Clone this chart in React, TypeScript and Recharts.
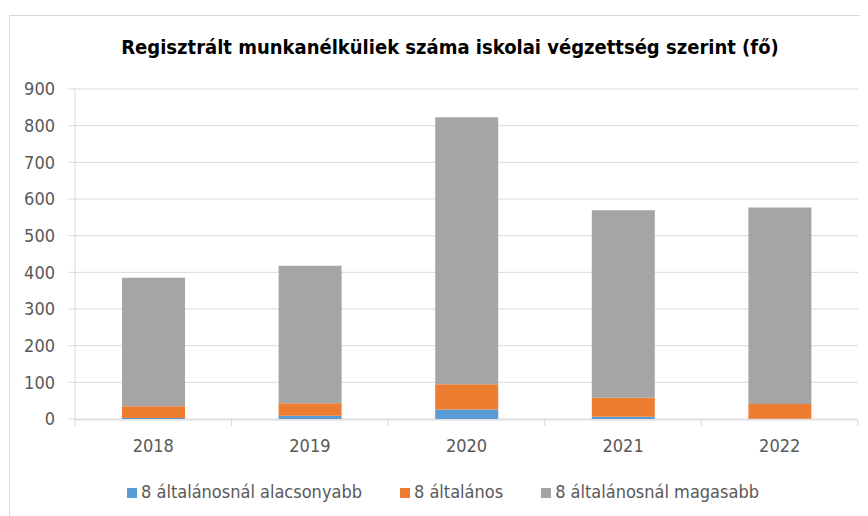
import { Bar, BarChart, CartesianGrid, Legend, XAxis, YAxis } from 'recharts'

const years = ['2018', '2019', '2020', '2021', '2022']
const belowEight = [3, 9, 26, 6, 1]
const eightGrade = [32, 34, 69, 52, 40]
const aboveEight = [350, 375, 728, 511, 536]
const yTicks = [0, 100, 200, 300, 400, 500, 600, 700, 800, 900]

const data = years.map((year, i) => ({
  year,
  idx: i,
  s1: belowEight[i],
  s2: eightGrade[i],
  s3: aboveEight[i],
}))

const font = '"DejaVu Sans Condensed", "Liberation Sans Narrow", "Open Sans", sans-serif'
const tickStyle = { fill: '#595959', fontSize: 18, fontFamily: font }

export default function App() {
  return (
    <div
      style={{
        position: 'relative',
        marginTop: 7,
        marginLeft: 1,
        width: 880,
        height: 520,
        border: '1px solid #d9d9d9',
        fontFamily: font,
      }}
    >
      <div
        style={{
          position: 'absolute',
          top: 19,
          left: 0,
          width: '100%',
          textAlign: 'center',
          fontSize: 20,
          fontWeight: 'bold',
          color: '#000',
        }}
      >
        Regisztrált munkanélküliek száma iskolai végzettség szerint (fő)
      </div>
      <BarChart
        width={860}
        height={517}
        data={data}
        margin={{ top: 73, right: 12, bottom: 0, left: 0 }}
      >
        <CartesianGrid vertical={false} stroke="#d9d9d9" />
        <XAxis
          dataKey="year"
          axisLine={false}
          tickLine={false}
          tick={tickStyle}
          tickMargin={14}
          height={1}
        />
        <XAxis
          xAxisId="edges"
          type="number"
          dataKey="idx"
          domain={[0, 5]}
          ticks={[0, 1, 2, 3, 4, 5]}
          tickFormatter={() => ''}
          stroke="#d9d9d9"
          tickSize={6}
          height={40}
        />
        <YAxis
          width={65}
          domain={[0, 900]}
          ticks={yTicks}
          stroke="#d9d9d9"
          tickSize={7}
          tickMargin={13}
          tick={tickStyle}
        />
        <Legend
          verticalAlign="bottom"
          height={52}
          iconType="square"
          iconSize={10}
          itemSorter="dataKey"
          wrapperStyle={{ fontSize: 18, fontFamily: font, color: '#595959', paddingTop: 21, paddingLeft: 14 }}
          formatter={(v: string, _e: unknown, i: number) => (
            <span style={{ color: '#595959', marginRight: i < 2 ? 28 : 0 }}>{v}</span>
          )}
        />
        <Bar dataKey="s1" name="8 általánosnál alacsonyabb" stackId="a" fill="#5b9bd5" barSize={63} isAnimationActive={false} />
        <Bar dataKey="s2" name="8 általános" stackId="a" fill="#ed7d31" barSize={63} isAnimationActive={false} />
        <Bar dataKey="s3" name="8 általánosnál magasabb" stackId="a" fill="#a5a5a5" barSize={63} isAnimationActive={false} />
      </BarChart>
    </div>
  )
}
